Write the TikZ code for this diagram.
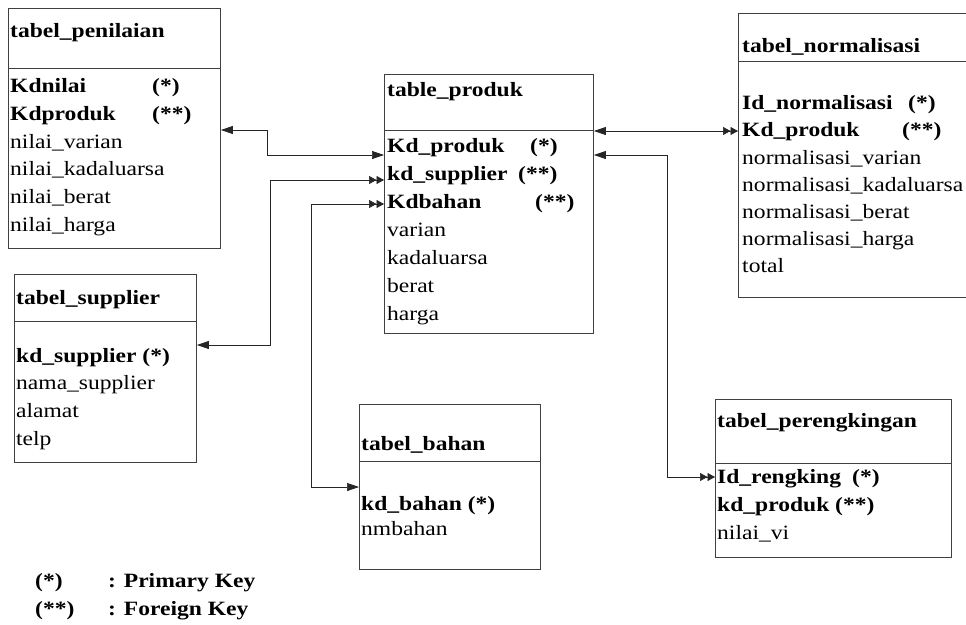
\documentclass[tikz,border=0pt]{standalone}
\usepackage{fontspec}
\setmainfont{Liberation Serif}[FakeStretch=1.16]
\usetikzlibrary{arrows.meta, positioning}

\tikzset{
  tbl/.style={draw=black!75, line width=0.9pt, anchor=north west, inner sep=0pt},
  rule/.style={draw=black!75, line width=0.9pt},
  attr/.style={anchor=west, inner sep=0pt, text height=14pt, text depth=4pt, text=black, font=\fontsize{20.3}{24}\selectfont},
  keyattr/.style={attr, font=\fontsize{20.3}{24}\selectfont\bfseries},
  conn/.style={draw=black!85, line width=0.7pt},
  oneone/.style={arrows={Triangle[length=12pt, width=8pt]-Triangle[length=12pt, width=8pt]}},
  onemany/.style={arrows={Triangle[length=12pt, width=8pt]-Triangle[length=7.5pt, width=8pt]Triangle[length=7.5pt, width=8pt]}},
  manyone/.style={arrows={Triangle[length=7.5pt, width=8pt]Triangle[length=7.5pt, width=8pt]-Triangle[length=12pt, width=8pt]}}
}

\begin{document}
\begin{tikzpicture}[x=1pt, y=-1pt]
  \useasboundingbox (0,0) rectangle (966,624);

  % tabel_penilaian
  \node[tbl, minimum width=212pt, minimum height=240pt] (pen) at (8,8) {};
  \draw[rule] (pen.west |- 0,68) -- (pen.east |- 0,68);
  \node[keyattr] (pentitle) at (10,32) {tabel\_penilaian};
  \node[keyattr] (penkdnilai) at (10,87) {\makebox[142pt][l]{Kdnilai}(*)};
  \node[keyattr] (penkdproduk) at (10,115) {\makebox[142pt][l]{Kdproduk}(**)};
  \node[attr] (penvarian) at (10,143) {nilai\_varian};
  \node[attr] (penkadaluarsa) at (10,170) {nilai\_kadaluarsa};
  \node[attr] (penberat) at (10,198) {nilai\_berat};
  \node[attr] (penharga) at (10,226) {nilai\_harga};

  % tabel_supplier
  \node[tbl, minimum width=182pt, minimum height=188pt] (sup) at (14,274) {};
  \draw[rule] (sup.west |- 0,321) -- (sup.east |- 0,321);
  \node[keyattr] (suptitle) at (16,299) {tabel\_supplier};
  \node[keyattr] (supkd) at (16,357) {kd\_supplier (*)};
  \node[attr] (supnama) at (16,384) {nama\_supplier};
  \node[attr] (supalamat) at (16,412) {alamat};
  \node[attr] (suptelp) at (16,440) {telp};

  % table_produk
  \node[tbl, minimum width=209pt, minimum height=259pt] (prod) at (384,74) {};
  \draw[rule] (prod.west |- 0,130) -- (prod.east |- 0,130);
  \node[keyattr] (prodtitle) at (387,91) {table\_produk};
  \node[keyattr] (prodkd) at (387,147) {\makebox[143pt][l]{Kd\_produk}(*)};
  \node[keyattr] (prodsupplier) at (387,175) {\makebox[131pt][l]{kd\_supplier}(**)};
  \node[keyattr] (prodbahan) at (387,203) {\makebox[148pt][l]{Kdbahan}(**)};
  \node[attr] (prodvarian) at (387,231) {varian};
  \node[attr] (prodkadaluarsa) at (387,259) {kadaluarsa};
  \node[attr] (prodberat) at (387,287) {berat};
  \node[attr] (prodharga) at (387,315) {harga};

  % tabel_normalisasi
  \node[tbl, minimum width=240pt, minimum height=284pt] (nor) at (738,13) {};
  \draw[rule] (nor.west |- 0,61) -- (nor.east |- 0,61);
  \node[keyattr] (nortitle) at (742,47) {tabel\_normalisasi};
  \node[keyattr] (norid) at (742,104) {\makebox[166pt][l]{Id\_normalisasi}(*)};
  \node[keyattr] (norkd) at (742,131) {\makebox[160pt][l]{Kd\_produk}(**)};
  \node[attr] (norvarian) at (742,159) {normalisasi\_varian};
  \node[attr] (norkadaluarsa) at (742,186) {normalisasi\_kadaluarsa};
  \node[attr] (norberat) at (742,213) {normalisasi\_berat};
  \node[attr] (norharga) at (742,240) {normalisasi\_harga};
  \node[attr] (nortotal) at (742,267) {total};

  % tabel_bahan
  \node[tbl, minimum width=181pt, minimum height=165pt] (ban) at (359,404) {};
  \draw[rule] (ban.west |- 0,461) -- (ban.east |- 0,461);
  \node[keyattr] (bantitle) at (361,445) {tabel\_bahan};
  \node[keyattr] (bankd) at (361,505) {kd\_bahan (*)};
  \node[attr] (bannama) at (361,530) {nmbahan};

  % tabel_perengkingan
  \node[tbl, minimum width=236pt, minimum height=158pt] (per) at (715,399) {};
  \draw[rule] (per.west |- 0,463) -- (per.east |- 0,463);
  \node[keyattr] (pertitle) at (717,422) {tabel\_perengkingan};
  \node[keyattr] (perid) at (717,478) {\makebox[135pt][l]{Id\_rengking}(*)};
  \node[keyattr] (perkd) at (717,506) {kd\_produk (**)};
  \node[attr] (pernilai) at (717,534) {nilai\_vi};

  % Relasi
  \draw[conn, oneone] (pen.east |- 0,130) -- (267,130) -- (267,155) -- (prod.west |- 0,155);
  \draw[conn, onemany] (sup.east |- 0,345) -- (270,345) -- (270,180) -- (prod.west |- 0,180);
  \draw[conn, manyone] (prod.west |- 0,204) -- (311,204) -- (311,487) -- (ban.west |- 0,487);
  \draw[conn, onemany] (prod.east |- 0,131) -- (nor.west |- 0,131);
  \draw[conn, onemany] (prod.east |- 0,155) -- (667,155) -- (667,477) -- (per.west |- 0,477);

  % Keterangan
  \node[keyattr] (legpk) at (35,582) {(*)};
  \node[keyattr] (legpktext) at (108,582) {: Primary Key};
  \node[keyattr] (legfk) at (35,610) {(**)};
  \node[keyattr] (legfktext) at (108,610) {: Foreign Key};
\end{tikzpicture}
\end{document}
